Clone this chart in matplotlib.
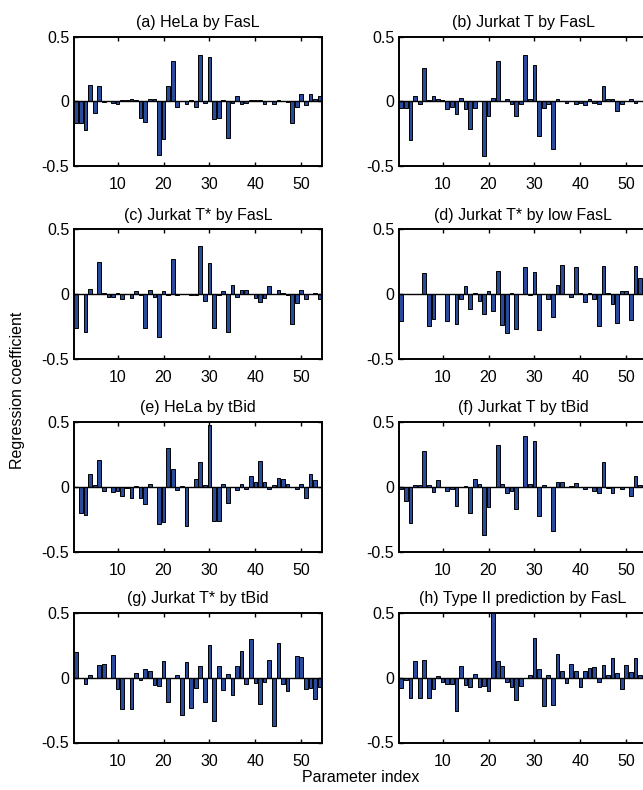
import numpy as np
import matplotlib
matplotlib.use("Agg")
import matplotlib.pyplot as plt

plt.rcParams['font.family'] = ['Liberation Sans', 'DejaVu Sans']

# regression coefficients for the 54 model parameters, one list per panel
hela_fasl = [-0.165, -0.165, -0.22, 0.127, -0.09, 0.12, -0.005, 0.0, -0.01, -0.02,
             0.01, 0.015, 0.02, 0.01, -0.125, -0.155, 0.02, 0.02, -0.41, -0.29,
             0.12, 0.31, -0.04, 0.0, -0.02, 0.01, -0.04, 0.36, -0.01, 0.34,
             -0.135, -0.125, 0.01, -0.28, -0.01, 0.04, -0.02, -0.01, 0.01, 0.01,
             0.01, -0.02, 0.0, -0.02, 0.01, 0.0, -0.005, -0.17, -0.045, 0.06,
             -0.03, 0.06, 0.02, 0.04]
jurkat_fasl = [-0.05, -0.05, -0.30, 0.04, -0.02, 0.26, 0.01, 0.04, 0.02, 0.01,
               -0.06, -0.04, -0.10, 0.03, -0.06, -0.21, -0.05, 0.0, -0.42, -0.11,
               0.03, 0.31, 0.0, 0.02, -0.02, -0.11, -0.02, 0.355, 0.02, 0.28,
               -0.27, -0.05, -0.02, -0.37, 0.02, 0.0, -0.01, 0.0, -0.02, -0.01,
               -0.03, 0.02, -0.01, -0.02, 0.12, 0.02, 0.02, -0.07, -0.02, 0.0,
               0.02, -0.01, 0.0, 0.01]
jurkat_star_fasl = [-0.265, 0.0, -0.29, 0.04, 0.0, 0.245, 0.01, -0.02, -0.02, 0.01,
                    -0.04, 0.0, -0.03, 0.02, -0.01, -0.26, 0.03, -0.02, -0.33, 0.02,
                    -0.01, 0.27, -0.01, 0.0, 0.0, -0.01, -0.01, 0.37, -0.05, 0.24,
                    -0.265, -0.01, 0.02, -0.29, 0.07, -0.02, 0.03, 0.03, 0.0, -0.03,
                    -0.06, -0.03, 0.06, 0.0, 0.03, 0.01, -0.01, -0.235, -0.07, 0.035,
                    -0.04, 0.0, 0.005, -0.04]
jurkat_star_low = [-0.21, 0.0, 0.0, 0.0, 0.0, 0.165, -0.25, -0.195, 0.0, 0.0,
                   -0.21, 0.0, -0.235, -0.04, 0.06, -0.115, 0.01, -0.05, -0.155, 0.025,
                   -0.13, 0.175, -0.24, -0.30, 0.005, -0.27, 0.0, 0.21, -0.01, 0.17,
                   -0.28, 0.0, -0.04, -0.175, 0.07, 0.225, 0.0, -0.025, 0.21, 0.01,
                   -0.06, 0.01, -0.04, -0.25, 0.22, 0.01, -0.08, -0.22, 0.02, 0.02,
                   -0.20, 0.22, 0.125, 0.02]
hela_tbid = [-0.005, -0.20, -0.22, 0.10, 0.01, 0.21, -0.03, 0.0, -0.04, -0.03,
             -0.075, -0.01, -0.09, 0.005, -0.085, -0.13, 0.02, 0.0, -0.29, -0.27,
             0.30, 0.135, -0.025, 0.005, -0.30, 0.0, 0.06, 0.19, 0.01, 0.475,
             -0.265, -0.265, 0.025, -0.125, 0.0, -0.025, 0.02, -0.02, 0.085, 0.04,
             0.195, 0.04, -0.02, 0.01, 0.065, 0.06, 0.025, 0.0, -0.02, 0.025,
             -0.085, 0.10, 0.05, 0.0]
jurkat_tbid = [-0.02, -0.11, -0.28, 0.01, 0.01, 0.275, 0.01, -0.04, 0.05, 0.0,
               -0.03, -0.02, -0.15, 0.0, 0.005, -0.20, 0.06, 0.02, -0.37, -0.16,
               -0.005, 0.32, 0.02, -0.05, -0.03, -0.17, 0.0, 0.39, 0.02, 0.355,
               -0.225, 0.015, -0.005, -0.34, 0.035, 0.04, 0.0, 0.005, 0.03, 0.0,
               -0.02, 0.0, -0.03, -0.05, 0.19, -0.01, -0.045, 0.0, -0.015, 0.0,
               -0.07, 0.08, 0.01, 0.0]
jurkat_star_tbid = [0.195, 0.0, -0.045, 0.02, 0.0, 0.10, 0.105, -0.005, 0.175, -0.09,
                    -0.24, 0.0, -0.24, 0.04, -0.02, 0.065, 0.055, -0.055, -0.065, 0.13,
                    -0.185, 0.0, 0.02, -0.29, 0.12, -0.23, -0.08, 0.09, -0.19, 0.25,
                    -0.335, 0.09, -0.095, 0.03, -0.13, 0.09, 0.21, -0.05, 0.30, -0.04,
                    -0.20, -0.03, 0.14, -0.37, 0.27, -0.05, -0.10, 0.0, 0.17, 0.16,
                    -0.09, -0.08, -0.165, -0.07]
type2_fasl = [-0.08, -0.02, -0.16, 0.13, -0.16, 0.14, -0.155, -0.09, 0.01, -0.035,
              -0.05, -0.045, -0.26, 0.09, -0.055, -0.07, 0.03, -0.07, -0.065, -0.10,
              0.50, 0.13, 0.09, -0.03, -0.07, -0.17, -0.065, 0.0, 0.02, 0.31,
              0.065, -0.22, 0.02, -0.21, 0.18, 0.055, -0.04, 0.105, 0.05, -0.07,
              0.05, 0.075, 0.08, -0.035, 0.10, 0.02, 0.15, 0.04, -0.085, 0.10,
              0.045, 0.155, 0.02, 0.04]

titles = ["(a) HeLa by FasL", "(b) Jurkat T by FasL",
          "(c) Jurkat T* by FasL", "(d) Jurkat T* by low FasL",
          "(e) HeLa by tBid", "(f) Jurkat T by tBid",
          "(g) Jurkat T* by tBid", "(h) Type II prediction by FasL"]
series = [hela_fasl, jurkat_fasl, jurkat_star_fasl, jurkat_star_low,
          hela_tbid, jurkat_tbid, jurkat_star_tbid, type2_fasl]

W, H = 643, 790
fig = plt.figure(figsize=(W / 100, H / 100), dpi=100)

# axes placement in pixels (right column runs past the figure edge, as in the source)
col_left = [74, 399]
ax_w = 248
row_top = [36.7, 229.3, 422, 613]
ax_h = 129.5

for k, (title, vals) in enumerate(zip(titles, series)):
    r, c = divmod(k, 2)
    rect = [col_left[c] / W, 1 - (row_top[r] + ax_h) / H, ax_w / W, ax_h / H]
    ax = fig.add_axes(rect)
    idx = np.arange(1, len(vals) + 1)
    ax.bar(idx, vals, width=0.8, color="#2a4a9b", edgecolor="black", linewidth=0.7)
    ax.axhline(0, color="black", linewidth=1.0)
    ax.set_xlim(0.5, 54.5)
    ax.set_ylim(-0.5, 0.5)
    ax.set_xticks([10, 20, 30, 40, 50])
    ax.set_yticks([-0.5, 0, 0.5])
    ax.set_yticklabels(["-0.5", "0", "0.5"])
    ax.tick_params(direction="in", top=True, right=True, length=3, width=1,
                   labelsize=11.5)
    ax.tick_params(axis="x", pad=8)
    ax.tick_params(axis="y", pad=3.5)
    for s in ax.spines.values():
        s.set_linewidth(1.4)
    ax.set_title(title, fontsize=11.5, pad=7)

fig.text(18 / W, 1 - 390 / H, "Regression coefficient", rotation=90,
         ha="center", va="center", fontsize=11.5)
fig.text(361 / W, 1 - 778 / H, "Parameter index", ha="center", va="center",
         fontsize=11.5)

fig.savefig("out.png", dpi=100)
